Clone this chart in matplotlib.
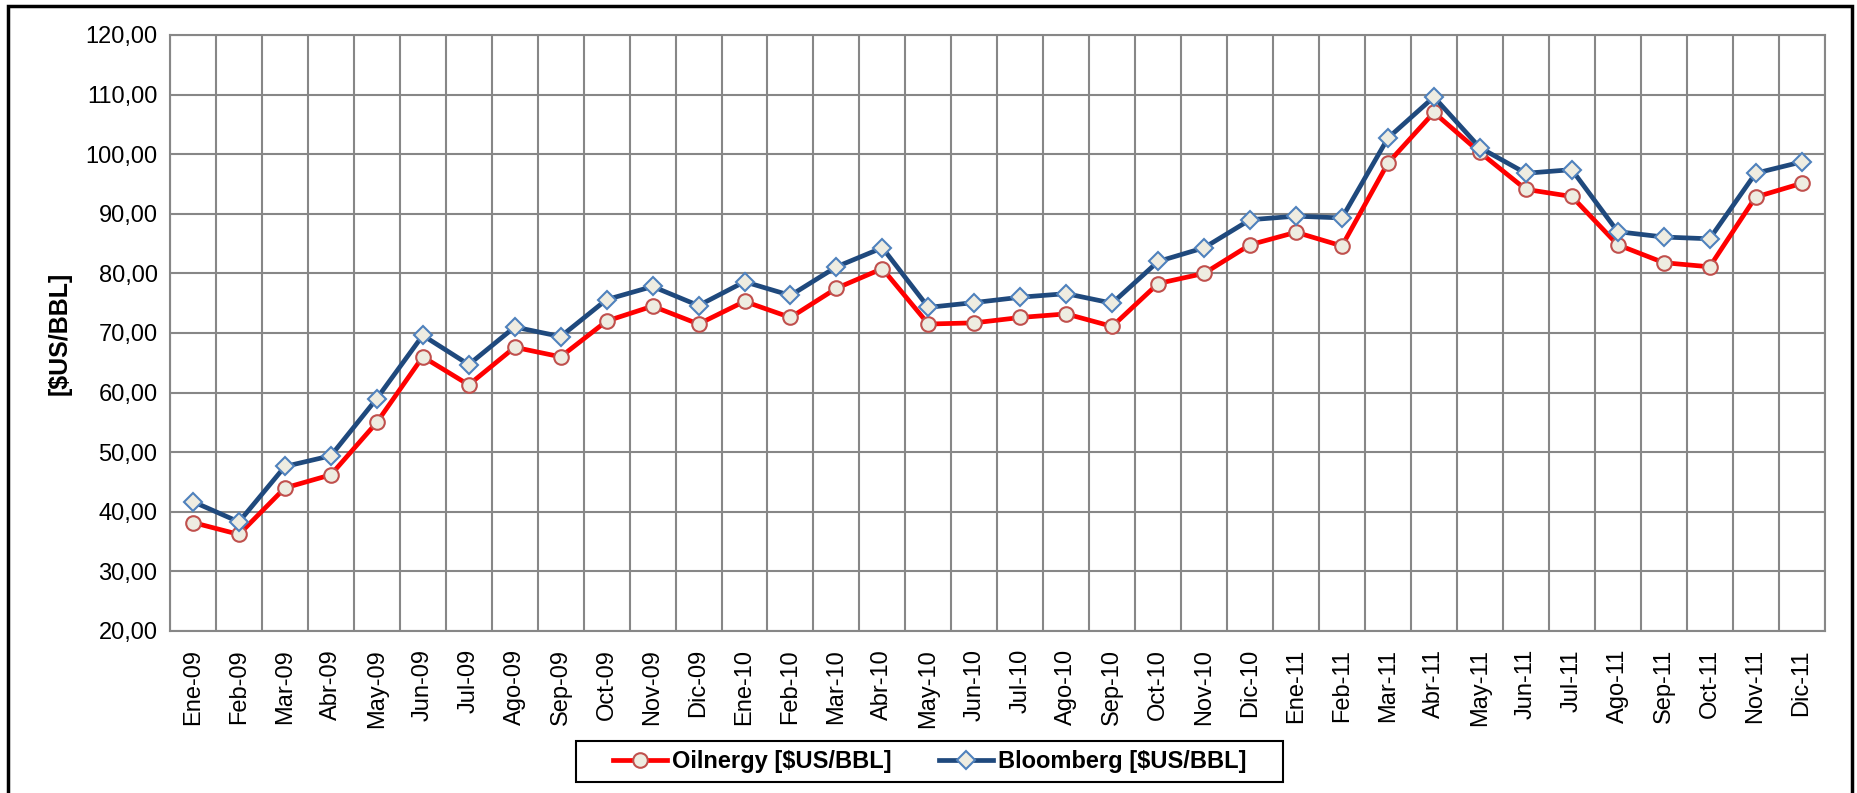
import matplotlib.pyplot as plt
from matplotlib.patches import Rectangle
from matplotlib.ticker import FixedLocator, FuncFormatter

# Datos
meses = ["Ene-09", "Feb-09", "Mar-09", "Abr-09", "May-09", "Jun-09", "Jul-09", "Ago-09",
         "Sep-09", "Oct-09", "Nov-09", "Dic-09", "Ene-10", "Feb-10", "Mar-10", "Abr-10",
         "May-10", "Jun-10", "Jul-10", "Ago-10", "Sep-10", "Oct-10", "Nov-10", "Dic-10",
         "Ene-11", "Feb-11", "Mar-11", "Abr-11", "May-11", "Jun-11", "Jul-11", "Ago-11",
         "Sep-11", "Oct-11", "Nov-11", "Dic-11"]
oilnergy = [38.2, 36.2, 44.0, 46.2, 55.0, 66.0, 61.3, 67.6, 66.0, 72.0, 74.5, 71.5,
            75.3, 72.6, 77.5, 80.8, 71.5, 71.7, 72.6, 73.2, 71.1, 78.3, 80.0, 84.8,
            86.9, 84.6, 98.5, 107.0, 100.3, 94.1, 92.9, 84.8, 81.8, 81.1, 92.8, 95.1]
bloomberg = [41.7, 38.3, 47.6, 49.4, 59.0, 69.6, 64.7, 71.0, 69.4, 75.6, 77.8, 74.6,
             78.6, 76.3, 81.1, 84.3, 74.3, 75.1, 76.0, 76.6, 75.0, 82.0, 84.3, 89.0,
             89.6, 89.3, 102.7, 109.6, 101.1, 96.8, 97.4, 87.0, 86.1, 85.8, 96.8, 98.7]

plt.rcParams['font.family'] = ['Liberation Sans', 'DejaVu Sans']

W, H = 1858, 793
fig = plt.figure(figsize=(W / 100, H / 100), dpi=100)
ax = fig.add_axes([0.0915, 0.2043, 0.8905, 0.7516])

x = list(range(len(meses)))
ax.plot(x, oilnergy, color='#FF0000', linewidth=3.4, marker='o', markersize=10.5,
        markerfacecolor='#EEECE1', markeredgecolor='#C0504D', markeredgewidth=1.5,
        label="Oilnergy [$US/BBL]", zorder=3)
ax.plot(x, bloomberg, color='#1F497D', linewidth=3.4, marker='D', markersize=9,
        markerfacecolor='#EEECE1', markeredgecolor='#4F81BD', markeredgewidth=1.5,
        label="Bloomberg [$US/BBL]", zorder=4)

ax.set_xlim(-0.5, len(meses) - 0.5)
ax.set_ylim(20, 120)
ax.set_yticks(range(20, 121, 10))
ax.yaxis.set_major_formatter(FuncFormatter(lambda v, p: f"{v:.2f}".replace('.', ',')))
ax.set_xticks(x)
ax.set_xticklabels(meses, rotation=90)
ax.xaxis.set_minor_locator(FixedLocator([i - 0.5 for i in range(len(meses) + 1)]))
ax.tick_params(axis='both', which='both', length=0, labelsize=17, pad=9)
ax.tick_params(axis='x', pad=13)

ax.grid(axis='y', which='major', color='#878787', linewidth=1.5)
ax.grid(axis='x', which='minor', color='#878787', linewidth=1.5)
ax.grid(axis='x', which='major', visible=False)
for s in ax.spines.values():
    s.set_color('#878787')
    s.set_linewidth(1.5)

ax.set_ylabel("[$US/BBL]", fontsize=18, fontweight='bold', labelpad=10)

# leyenda sin marco + caja dibujada aparte
fig.legend(loc='center', bbox_to_anchor=(929.5 / W, 1 - 761.5 / H), ncol=2, frameon=False,
           handlelength=2.3, columnspacing=2.0, handletextpad=0.2, borderpad=0.4,
           prop={'family': 'Liberation Sans', 'weight': 'bold', 'size': 17})
fig.patches.append(Rectangle((576 / W, 1 - 782 / H), 707 / W, 41 / H,
                             transform=fig.transFigure, fill=False,
                             edgecolor='black', linewidth=1.5))

# marco exterior
fig.patches.append(Rectangle((8 / W, -0.05), 1844 / W, 1.05 - 6 / H,
                             transform=fig.transFigure, fill=False,
                             edgecolor='black', linewidth=2.5))

fig.savefig("out.png", dpi=100)
